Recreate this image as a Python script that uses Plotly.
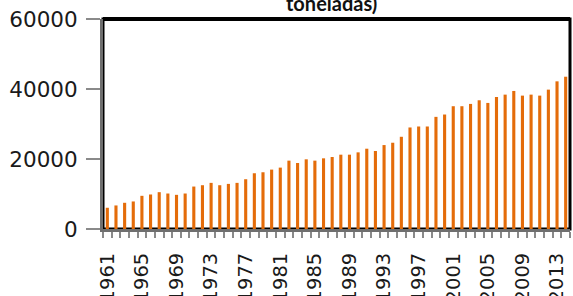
import plotly.graph_objects as go

years = list(range(1961, 2015))
values = [6070, 6730, 7490, 7870, 9480, 9860, 10520, 10140, 9760, 10140,
          12130, 12510, 13180, 12510, 12890, 13180, 14220, 15930, 16210, 16970,
          17540, 19530, 18860, 19910, 19530, 20190, 20570, 21235, 21235, 21900,
          22940, 22280, 23980, 24650, 26350, 29010, 29290, 29290, 32040, 32710,
          35080, 35080, 35740, 36780, 36020, 37730, 38390, 39440, 38110, 38390,
          38110, 39820, 42190, 43510]
title_text = "toneladas)"
y_ticks = [0, 20000, 40000, 60000]
x_ticks = list(range(1961, 2015, 4))

fig = go.Figure(go.Bar(x=years, y=values, marker=dict(color="#E46C0A", line=dict(width=0)), width=0.36))

fig.update_layout(
    width=573, height=296,
    margin=dict(l=103, r=3, t=19, b=67, autoexpand=False),
    paper_bgcolor="white", plot_bgcolor="white",
    showlegend=False,
    font=dict(family="DejaVu Sans", color="#1a1a1a"),
    xaxis=dict(range=[1960.5, 2014.5], tickmode="array", tickvals=x_ticks,
               ticktext=[str(v) for v in x_ticks], tickangle=-90,
               ticks="outside", ticklen=0, tickfont=dict(size=19.5),
               ticklabelstandoff=13, automargin=False,
               showline=True, linecolor="#6f6f6f", linewidth=3,
               showgrid=False, zeroline=False,
               minor=dict(tickmode="linear", tick0=1960.5, dtick=1, ticks="outside",
                          ticklen=6, tickcolor="#8a8a8a", tickwidth=1.5, showgrid=False)),
    yaxis=dict(range=[0, 60000], tickmode="array", tickvals=y_ticks,
               ticktext=[str(v) for v in y_ticks],
               ticks="outside", ticklen=14, tickcolor="#8a8a8a", tickwidth=1.5,
               tickfont=dict(size=21.5), ticklabelstandoff=4, automargin=False,
               showline=True, linecolor="#6f6f6f", linewidth=3,
               showgrid=False, zeroline=False),
    shapes=[dict(type="rect", xref="paper", yref="paper", x0=0, x1=1, y0=0, y1=1,
                 line=dict(color="black", width=3), layer="below")],
    annotations=[dict(text="<b>" + title_text + "</b>", xref="paper", yref="paper",
                      x=0.49, y=1, xanchor="center", yanchor="bottom", yshift=2,
                      showarrow=False, font=dict(size=20, family="Lato", color="#111"))],
)
fig.add_shape(type="line", xref="paper", yref="paper", x0=0, x1=1, y0=1, y1=1,
              line=dict(color="black", width=4))

fig.write_html("out.html", config={"displayModeBar": False},
               post_script="document.body.style.margin='0px';document.body.style.padding='0px';")
